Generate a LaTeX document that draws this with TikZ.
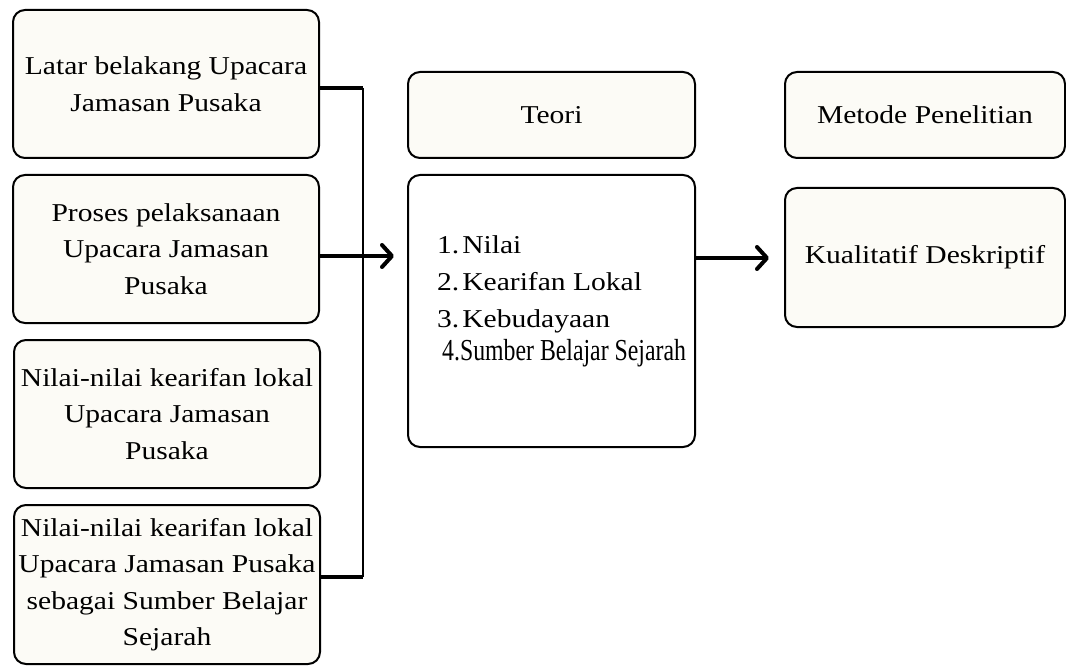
\documentclass[tikz,border=0pt]{standalone}
\usepackage{fontspec}
\setmainfont[FakeStretch=1.15]{Liberation Serif}
\newfontfamily\condfont[FakeStretch=0.78]{Liberation Serif}
\usetikzlibrary{arrows.meta}
\definecolor{cream}{HTML}{FCFBF6}
\begin{document}
\begin{tikzpicture}[x=1pt,y=-1pt,
  box/.style={draw=black, line width=2pt, rounded corners=12pt, fill=cream,
    align=center, inner sep=0pt, font=\fontsize{25.7}{36.5}\selectfont},
  leftbox/.style={box, minimum width=306pt},
  hline/.style={draw=black, line width=4pt},
  vline/.style={draw=black, line width=2.4pt},
  arr/.style={draw=black, line width=4pt, line cap=round,
    -{Straight Barb[length=10pt,width=22pt,round]}}
]
\useasboundingbox (0,0) rectangle (1066,666);

% left column
\node[leftbox, minimum height=148pt] (b1) at (166,84)
  {Latar belakang Upacara\\Jamasan Pusaka};
\node[leftbox, minimum height=148pt] (b2) at (166,249)
  {Proses pelaksanaan\\Upacara Jamasan\\Pusaka};
\node[leftbox, minimum height=148pt] (b3) at (167,414)
  {Nilai-nilai kearifan lokal\\Upacara Jamasan\\Pusaka};
\node[leftbox, minimum height=159pt] (b4) at (167,584.5)
  {Nilai-nilai kearifan lokal\\Upacara Jamasan Pusaka\\sebagai Sumber Belajar\\Sejarah};

% middle column
\node[box, minimum width=287pt, minimum height=86pt] (teori) at (551.5,115) {Teori};
\node[box, fill=white, minimum width=287pt, minimum height=272pt] (lst) at (551.5,311) {};
\node[anchor=north west, inner sep=0pt, align=left,
  font=\fontsize{25.7}{37}\selectfont] (items) at (437,235)
  {1.\hspace{3pt}Nilai\\2.\hspace{3pt}Kearifan Lokal\\3.\hspace{3pt}Kebudayaan\\[-4pt]%
   \hspace{5pt}{\condfont\fontsize{30.5}{33}\selectfont 4.Sumber Belajar Sejarah}};

% right column
\node[box, minimum width=280pt, minimum height=86pt] (metode) at (925,115) {Metode Penelitian};
\node[box, minimum width=280pt, minimum height=139pt] (kual) at (925,257.5) {Kualitatif Deskriptif};

% connectors
\coordinate (j1) at (363,88);
\coordinate (j4) at (363,577);
\coordinate (a2) at (363,256);
\coordinate (a3) at (740,258);
\draw[vline] (j1) -- (j4);
\draw[hline] (b1.east |- j1) -- (j1);
\draw[hline] (b4.east |- j4) -- (j4);
\draw[arr, shorten >=13pt] (b2.east |- a2) -- (lst.west |- a2);
\draw[arr, shorten >=15pt] (lst.east |- a3) -- (kual.west |- a3);
\end{tikzpicture}
\end{document}
